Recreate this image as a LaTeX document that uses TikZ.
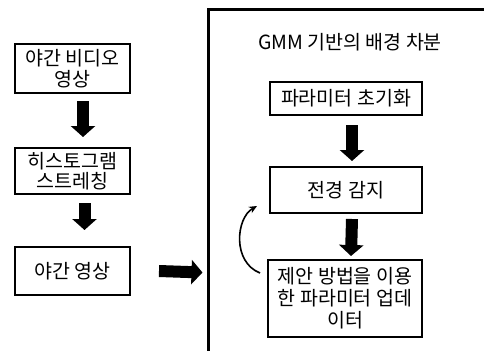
\documentclass[tikz,border=0pt]{standalone}
\usepackage{fontspec}
\setmainfont{Noto Sans CJK KR}
\usetikzlibrary{arrows.meta}
\begin{document}
\begin{tikzpicture}[x=1pt,y=-1pt,
  box/.style={draw=black,line width=2pt,align=center,font=\fontsize{19.5}{20.5}\selectfont,inner sep=0pt},
  fat/.style={line width=12pt,-{Triangle[length=11pt,width=24pt]}},
  loop/.style={line width=1.6pt,-{Stealth[length=8pt,width=7pt]}},
  frame/.style={line width=2.5pt}]
\useasboundingbox (0,0) rectangle (484,351);
% left column
\node[box,minimum width=115pt,minimum height=49pt] (b1) at (72.5,68.5) {야간 비디오\\영상};
\node[box,minimum width=115pt,minimum height=46pt] (b2) at (72.5,171) {히스토그램\\스트레칭};
\node[box,minimum width=115pt,minimum height=48pt] (b3) at (72.5,271) {야간 영상};
\draw[fat] ([xshift=10.5pt,yshift=-7pt]b1.south) -- ([xshift=10.5pt,yshift=10pt]b2.north);
\draw[fat] ([xshift=12pt,yshift=-8pt]b2.south) -- ([xshift=12pt,yshift=16pt]b3.north);
% frame
\coordinate (ftop) at (484,9.5);
\coordinate (fcorner) at (208.5,9.5);
\coordinate (fbot) at (208.5,351);
\draw[frame] (ftop) -- (fcorner) -- (fbot);
\draw[fat] ([xshift=28pt]b3.east) -- ([xshift=-6pt,yshift=-1.5pt]fcorner |- b3.east);
% right column
\node[font=\fontsize{19.5}{20.5}\selectfont] (title) at (350,42) {GMM 기반의 배경 차분};
\node[box,minimum width=152pt,minimum height=33pt] (r1) at (346,98.5) {파라미터 초기화};
\node[box,minimum width=152pt,minimum height=46pt] (r2) at (346,190) {전경 감지};
\node[box,minimum width=154pt,minimum height=77pt,font=\fontsize{19.5}{22}\selectfont] (r3) at (345,298.5) {제안 방법을 이용\\한 파라미터 업데\\이터};
\draw[fat] ([xshift=6pt,yshift=-9pt]r1.south) -- ([xshift=6pt,yshift=5pt]r2.north);
\draw[fat] ([xshift=6pt,yshift=-5pt]r2.south) -- ([xshift=6pt,yshift=3pt]r3.north);
\draw[loop] ([xshift=-7pt,yshift=-14pt]r3.north west) .. controls (232,262) and (236,218) .. ([xshift=-12pt,yshift=8pt]r2.south west);
\end{tikzpicture}
\end{document}
